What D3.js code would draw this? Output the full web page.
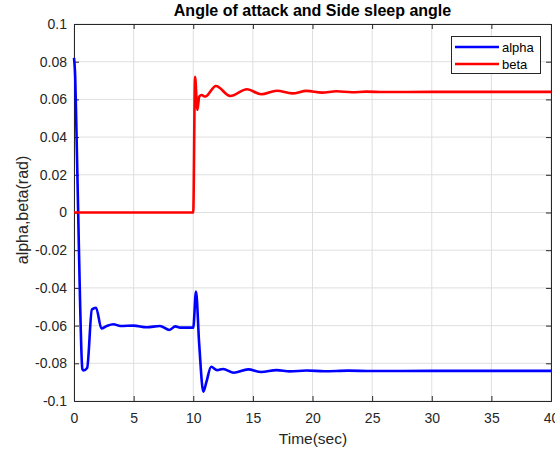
<!DOCTYPE html>
<html><head><meta charset="utf-8">
<script src="https://cdn.jsdelivr.net/npm/d3@7"></script>
<style>body{margin:0;background:#fff}svg{display:block}</style>
</head><body><svg id="c" width="555" height="454"></svg>
<script>
const seriesNames = ["alpha", "beta"];
const seriesColors = ["#0000ff", "#ff0000"];
const xTicks = [0, 5, 10, 15, 20, 25, 30, 35, 40];
const yTicks = [-0.1, -0.08, -0.06, -0.04, -0.02, 0, 0.02, 0.04, 0.06, 0.08, 0.1];
const yTickLabels = ["-0.1", "-0.08", "-0.06", "-0.04", "-0.02", "0", "0.02", "0.04", "0.06", "0.08", "0.1"];
const alphaT = [0, 0.1, 0.2, 0.35, 0.5, 0.7, 0.8, 1.1, 1.5, 1.85, 2.3, 2.75, 3.3, 3.9, 5, 6.1, 7.2, 8.0, 8.5, 8.9, 10.0, 10.23, 10.5, 10.85, 11.1, 11.5, 12.0, 12.5, 13.4, 14.6, 15.7, 17.0, 18.1, 19.5, 21, 23, 25, 30, 35, 40];
const alphaV = [0.082, 0.072, 0.045, 0.0, -0.045, -0.083, -0.0838, -0.0825, -0.0515, -0.0505, -0.0615, -0.0602, -0.0593, -0.0602, -0.060, -0.0609, -0.0602, -0.0623, -0.0604, -0.0611, -0.0611, -0.042, -0.07, -0.0951, -0.09, -0.0818, -0.0836, -0.083, -0.085, -0.0832, -0.0846, -0.0836, -0.0843, -0.0838, -0.0842, -0.0839, -0.0841, -0.084, -0.084, -0.084];
const betaT = [0, 10.0, 10.15, 10.35, 10.5, 10.7, 11.0, 11.9, 13.1, 14.5, 15.7, 17.0, 18.3, 19.5, 20.8, 22, 23.3, 24.5, 26, 30, 40];
const betaV = [0, 0, 0.072, 0.0544, 0.0615, 0.0623, 0.0615, 0.0671, 0.0618, 0.0654, 0.0627, 0.0646, 0.0632, 0.0645, 0.0636, 0.0643, 0.0638, 0.0641, 0.0639, 0.064, 0.064];

const svg = d3.select("#c");
const L = 74, R = 551, T = 24, B = 401;
const x = d3.scaleLinear().domain([0, 40]).range([L, R]);
const y = d3.scaleLinear().domain([-0.1, 0.1]).range([B, T]);
const font = "'Liberation Sans', Arial, sans-serif";
const tc = "#262626";

// grid
const g = svg.append("g");
g.selectAll(".gx").data(xTicks).join("line")
  .attr("x1", d => x(d)).attr("x2", d => x(d)).attr("y1", T).attr("y2", B)
  .attr("stroke", "#dfdfdf").attr("stroke-width", 1);
g.selectAll(".gy").data(yTicks).join("line")
  .attr("y1", d => y(d)).attr("y2", d => y(d)).attr("x1", L).attr("x2", R)
  .attr("stroke", "#dfdfdf").attr("stroke-width", 1);

// axes with inward ticks
const axB = d3.axisBottom(x).tickValues(xTicks).tickSize(-5).tickPadding(12).tickFormat(d3.format("d"));
const axL = d3.axisLeft(y).tickValues(yTicks).tickSize(-5).tickPadding(7).tickFormat((d, i) => yTickLabels[i]);
const axT = d3.axisTop(x).tickValues(xTicks).tickSize(-5).tickFormat("");
const axR = d3.axisRight(y).tickValues(yTicks).tickSize(-5).tickFormat("");
function style(sel) {
  sel.selectAll("path").attr("stroke", tc).attr("stroke-width", 1);
  sel.selectAll("line").attr("stroke", tc);
  sel.selectAll("text").attr("fill", tc).style("font-family", font).style("font-size", "14px");
}
svg.append("g").attr("transform", `translate(0,${B})`).call(axB).call(style);
svg.append("g").attr("transform", `translate(${L},0)`).call(axL).call(style);
svg.append("g").attr("transform", `translate(0,${T})`).call(axT).call(style);
svg.append("g").attr("transform", `translate(${R},0)`).call(axR).call(style);

// lines
const line = d3.line().x(d => x(d[0])).y(d => y(d[1])).curve(d3.curveMonotoneX);
const data = [d3.zip(alphaT, alphaV), d3.zip(betaT, betaV)];
svg.append("g").selectAll("path").data(data).join("path")
  .attr("d", line).attr("fill", "none")
  .attr("stroke", (d, i) => seriesColors[i]).attr("stroke-width", 2.6)
  .attr("stroke-linejoin", "round");

// title and labels
svg.append("text").attr("x", 312.5).attr("y", 16).attr("text-anchor", "middle")
  .style("font-family", font).style("font-size", "16px").style("font-weight", "bold")
  .attr("fill", "#000").text("Angle of attack and Side sleep angle");
svg.append("text").attr("x", 313).attr("y", 444).attr("text-anchor", "middle")
  .style("font-family", font).style("font-size", "15.5px").attr("fill", tc).text("Time(sec)");
svg.append("text").attr("transform", `translate(28,210) rotate(-90)`).attr("text-anchor", "middle")
  .style("font-family", font).style("font-size", "16px").attr("fill", tc).text("alpha,beta(rad)");

// legend
const lg = svg.append("g");
lg.append("rect").attr("x", 451.5).attr("y", 36.5).attr("width", 89).attr("height", 37)
  .attr("fill", "#fff").attr("stroke", "#262626").attr("stroke-width", 1);
seriesNames.forEach((n, i) => {
  const yy = 47 + i * 17;
  lg.append("line").attr("x1", 455).attr("x2", 499).attr("y1", yy).attr("y2", yy)
    .attr("stroke", seriesColors[i]).attr("stroke-width", 2.6);
  lg.append("text").attr("x", 502).attr("y", yy + 4.5).style("font-family", font).style("font-size", "13px")
    .attr("fill", "#000").text(n);
});
</script></body></html>
